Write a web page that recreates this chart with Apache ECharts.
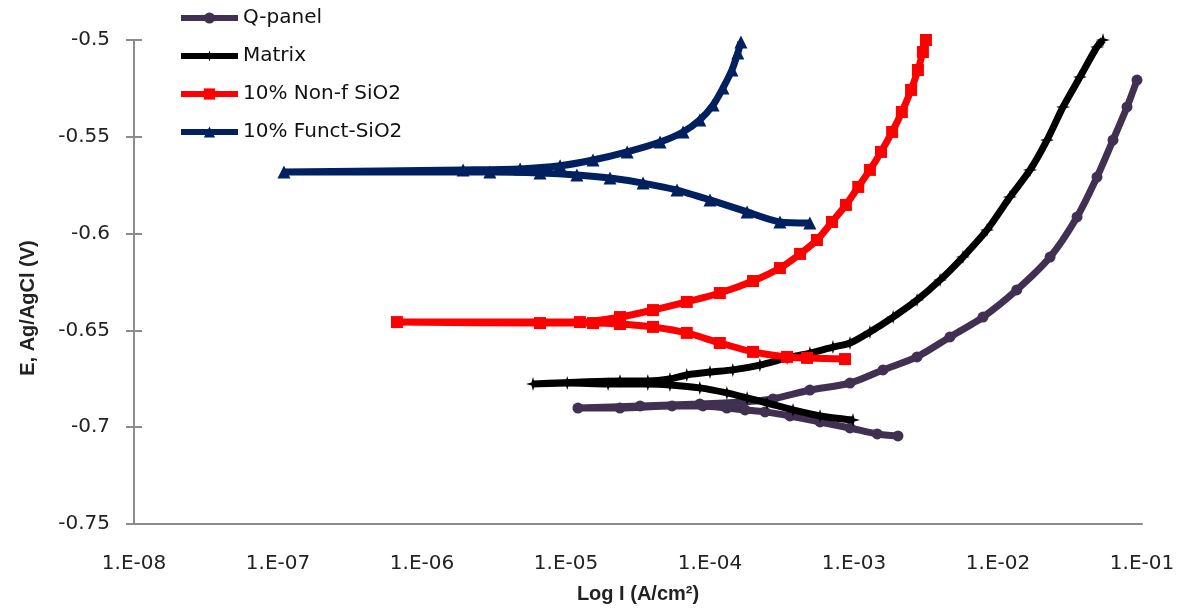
<!DOCTYPE html>
<html>
<head>
<meta charset="utf-8">
<script src="https://cdn.jsdelivr.net/npm/echarts@6/dist/echarts.min.js"></script>
<style>
html,body{margin:0;padding:0;background:#fff;}
#chart{width:1187px;height:616px;}
</style>
</head>
<body>
<div id="chart"></div>
<script>
// ---- Data (current density in A/cm2, potential in V vs Ag/AgCl) ----
var seriesNames = ['Q-panel', 'Matrix', '10% Non-f SiO2', '10% Funct-SiO2'];
var xTickLabels = ['1.E-08', '1.E-07', '1.E-06', '1.E-05', '1.E-04', '1.E-03', '1.E-02', '1.E-01'];

var qPanelI = [2.02e-3, 1.45e-3, 9.38e-4, 5.81e-4, 3.59e-4, 2.41e-4, 1.75e-4, 1.31e-4, 8.93e-5, 5.45e-5, 2.37e-5, 1.21e-5,
               3.27e-5, 8.5e-5, 1.62e-4, 2.74e-4, 4.94e-4, 9.38e-4, 1.59e-3, 2.74e-3, 4.64e-3, 7.87e-3, 1.35e-2, 2.3e-2, 3.54e-2, 4.87e-2, 6.29e-2, 7.87e-2, 9.23e-2];
var qPanelE = [-0.7045, -0.7035, -0.7004, -0.6973, -0.6942, -0.6921, -0.6911, -0.6901, -0.689, -0.689, -0.6901, -0.6901,
               -0.689, -0.688, -0.687, -0.6854, -0.6808, -0.6772, -0.6704, -0.6637, -0.6534, -0.6431, -0.6291, -0.6121, -0.5914, -0.5708, -0.5517, -0.5346, -0.5207];

var matrixI = [9.84e-4, 5.81e-4, 3.77e-4, 2.49e-4, 1.81e-4, 1.31e-4, 8.5e-5, 5.27e-5, 3.7e-5, 1.96e-5, 1.02e-5, 5.9e-6,
               2.37e-5, 3.7e-5, 5.27e-5, 6.9e-5, 1.0e-4, 1.44e-4, 2.22e-4, 3.43e-4, 4.94e-4, 7.14e-4, 9.38e-4, 1.29e-3, 1.87e-3, 2.74e-3, 3.96e-3, 5.71e-3, 8.39e-3, 1.21e-2, 1.67e-2, 2.19e-2, 2.83e-2, 3.71e-2, 4.87e-2, 5.36e-2];
var matrixE = [-0.6963, -0.6942, -0.6911, -0.6875, -0.6849, -0.6823, -0.6797, -0.6782, -0.6777, -0.6777, -0.6772, -0.6777,
               -0.6761, -0.6761, -0.6751, -0.673, -0.6715, -0.6704, -0.6679, -0.6642, -0.6617, -0.6586, -0.6565, -0.6508, -0.6431, -0.6343, -0.624, -0.6121, -0.5981, -0.5811, -0.5671, -0.5517, -0.5346, -0.5191, -0.5036, -0.5];

var nonfI = [8.66e-4, 4.72e-4, 3.43e-4, 1.99e-4, 1.17e-4, 6.9e-5, 4.02e-5, 2.37e-5, 1.54e-5, 6.6e-6, 6.7e-7,
             1.25e-5, 2.37e-5, 4.02e-5, 6.9e-5, 1.17e-4, 1.99e-4, 3.06e-4, 4.22e-4, 5.53e-4, 7.03e-4, 8.79e-4, 1.07e-3, 1.29e-3, 1.54e-3, 1.84e-3, 2.15e-3, 2.49e-3, 2.78e-3, 3.01e-3, 3.16e-3];
var nonfE = [-0.6648, -0.6642, -0.6637, -0.6611, -0.6565, -0.6513, -0.6482, -0.6467, -0.6462, -0.6462, -0.6457,
             -0.6457, -0.6431, -0.6395, -0.6353, -0.6307, -0.6245, -0.6178, -0.6105, -0.6033, -0.594, -0.5852, -0.5759, -0.5671, -0.5578, -0.5475, -0.5372, -0.5258, -0.5155, -0.5062, -0.5];

var functI = [4.94e-4, 3.06e-4, 1.81e-4, 1.0e-4, 5.9e-5, 3.43e-5, 2.02e-5, 1.19e-5, 6.6e-6, 2.96e-6, 1.1e-7,
              1.93e-6, 4.8e-6, 9.1e-6, 1.54e-5, 2.66e-5, 4.5e-5, 6.5e-5, 8.5e-5, 1.05e-4, 1.23e-4, 1.42e-4, 1.56e-4, 1.64e-4];
var functE = [-0.5945, -0.594, -0.5888, -0.5826, -0.5775, -0.5739, -0.5713, -0.5697, -0.5687, -0.5682, -0.5682,
              -0.5671, -0.5666, -0.565, -0.562, -0.5578, -0.5527, -0.5475, -0.5413, -0.5336, -0.5248, -0.5155, -0.5067, -0.501];

function zip(xs, ys) { return xs.map(function (x, i) { return [x, ys[i]]; }); }

var starPath = 'path://M0,-10 L2.2,-2.2 L10,0 L2.2,2.2 L0,10 L-2.2,2.2 L-10,0 L-2.2,-2.2 Z';
var axisGray = '#8c8c8c';
var font = 'DejaVu Sans';

function mkSeries(name, data, color, symbol, size, z) {
  return {
    name: name, type: 'line', data: data, z: z,
    symbol: symbol, symbolSize: size, showSymbol: true,
    smooth: 0.25,
    lineStyle: { color: color, width: 7 },
    itemStyle: { color: color, borderWidth: 0 },
    emphasis: { disabled: true }
  };
}

var chart = echarts.init(document.getElementById('chart'), null, { renderer: 'canvas' });
chart.setOption({
  animation: false,
  backgroundColor: '#ffffff',
  grid: { left: 134, right: 45, top: 40, bottom: 92, containLabel: false },
  legend: {
    orient: 'vertical', left: 178, top: 8, padding: 0,
    itemWidth: 57, itemHeight: 14, itemGap: 18,
    lineStyle: { width: 6 },
    textStyle: { fontFamily: font, fontSize: 20, color: '#111', lineHeight: 20 },
    data: seriesNames
  },
  xAxis: {
    type: 'log', logBase: 10, min: 1e-8, max: 1e-1, splitNumber: 7,
    name: 'Log I (A/cm²)', nameLocation: 'middle', nameGap: 60,
    nameTextStyle: { fontFamily: 'Liberation Sans', fontWeight: 'bold', fontSize: 20, color: '#222' },
    axisLine: { show: true, lineStyle: { color: axisGray, width: 2 } },
    axisTick: { show: false },
    splitLine: { show: false },
    minorTick: { show: false },
    axisLabel: {
      fontFamily: font, fontSize: 20, color: '#222', margin: 30,
      showMinLabel: true, showMaxLabel: true,
      formatter: function (v) {
        var e = Math.round(Math.log(v) / Math.LN10);
        return xTickLabels[e + 8] || '';
      }
    }
  },
  yAxis: [{
    type: 'value', min: -0.75, max: -0.5, interval: 0.05, position: 'left',
    name: 'E, Ag/AgCl (V)', nameLocation: 'middle', nameGap: 96, nameRotate: 90,
    nameTextStyle: { fontFamily: 'Liberation Sans', fontWeight: 'bold', fontSize: 20, color: '#222', padding: [0, 52, 0, 0] },
    axisLine: { show: true, lineStyle: { color: axisGray, width: 2 } },
    axisTick: { show: true, length: 8, lineStyle: { color: axisGray, width: 2 } },
    splitLine: { show: false },
    axisLabel: { fontFamily: font, fontSize: 20, color: '#222', margin: 24 }
  }, {
    type: 'value', min: -0.75, max: -0.5, interval: 0.05, position: 'left', offset: 0,
    axisLine: { show: false },
    axisTick: { show: true, inside: true, length: 8, lineStyle: { color: axisGray, width: 2 } },
    splitLine: { show: false },
    axisLabel: { show: false }
  }],
  series: [
    mkSeries(seriesNames[0], zip(qPanelI, qPanelE), '#403152', 'circle', 11, 2),
    mkSeries(seriesNames[1], zip(matrixI, matrixE), '#000000', starPath, 14, 3),
    mkSeries(seriesNames[2], zip(nonfI, nonfE), '#ff0000', 'rect', 12, 4),
    mkSeries(seriesNames[3], zip(functI, functE), '#002060', 'triangle', 13, 5)
  ]
});
</script>
</body>
</html>
